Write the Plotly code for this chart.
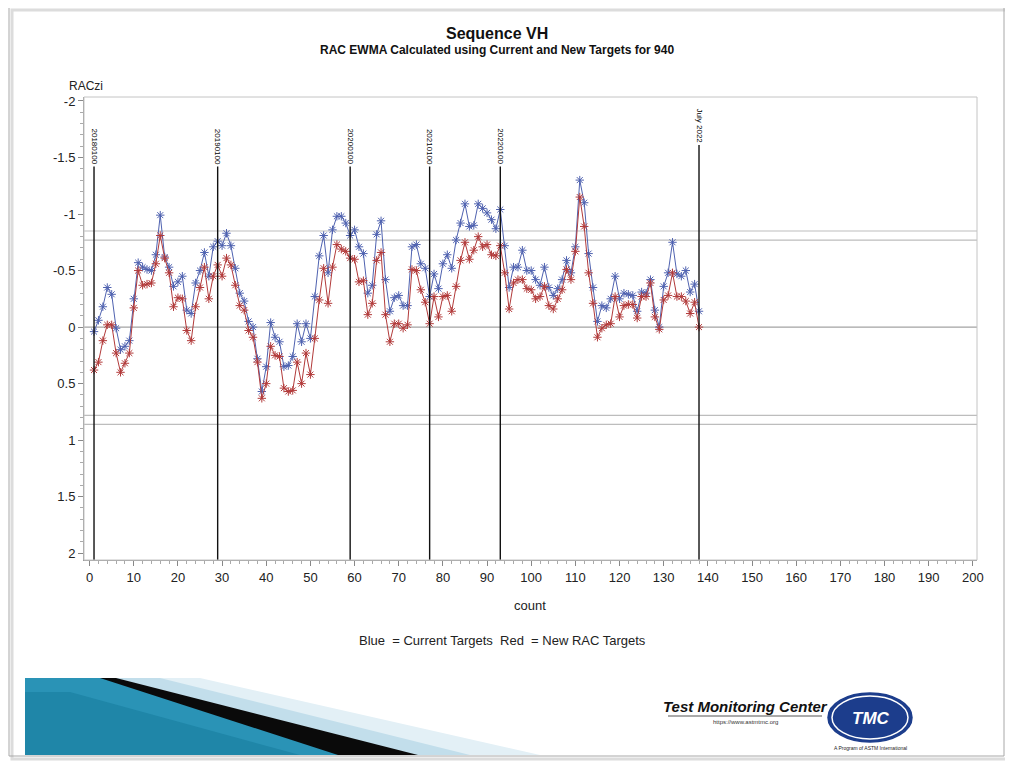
import plotly.graph_objects as go

# ---------------- data ----------------
counts = list(range(1, 139))

blue_current = [
    0.04, -0.06, -0.18, -0.35, -0.29, 0.01, 0.20, 0.17, 0.12, -0.25,
    -0.57, -0.53, -0.51, -0.50, -0.64, -0.99, -0.62, -0.53, -0.36, -0.40,
    -0.45, -0.15, -0.12, -0.39, -0.50, -0.66, -0.45, -0.71, -0.76, -0.72,
    -0.83, -0.72, -0.52, -0.30, -0.23, -0.05, 0.00, 0.28, 0.57, 0.35,
    -0.04, 0.09, 0.13, 0.35, 0.34, 0.26, -0.03, 0.13, -0.03, 0.10,
    -0.27, -0.63, -0.81, -0.48, -0.86, -0.98, -0.98, -0.92, -0.81, -0.86,
    -0.71, -0.65, -0.30, -0.37, -0.82, -0.94, -0.42, -0.14, -0.26, -0.28,
    -0.19, -0.19, -0.71, -0.73, -0.56, -0.52, -0.27, -0.47, -0.34, -0.56,
    -0.64, -0.52, -0.77, -0.92, -1.09, -0.89, -0.90, -1.09, -1.05, -1.01,
    -0.95, -0.87, -1.04, -0.72, -0.35, -0.53, -0.53, -0.68, -0.50, -0.50,
    -0.42, -0.37, -0.53, -0.35, -0.28, -0.34, -0.42, -0.59, -0.48, -0.71,
    -1.30, -1.10, -0.65, -0.35, -0.05, -0.19, -0.17, -0.25, -0.45, -0.25,
    -0.30, -0.29, -0.28, -0.14, -0.31, -0.30, -0.42, -0.15, 0.00, -0.36,
    -0.48, -0.75, -0.47, -0.45, -0.50, -0.31, -0.38, -0.14,
]

red_new = [
    0.38, 0.31, 0.12, -0.02, -0.02, 0.23, 0.40, 0.32, 0.23, -0.17,
    -0.50, -0.37, -0.38, -0.39, -0.56, -0.81, -0.61, -0.48, -0.18, -0.26,
    -0.25, 0.03, 0.12, -0.18, -0.35, -0.53, -0.25, -0.45, -0.55, -0.45,
    -0.61, -0.55, -0.37, -0.19, -0.15, 0.03, 0.09, 0.31, 0.63, 0.50,
    0.17, 0.25, 0.26, 0.54, 0.57, 0.56, 0.31, 0.50, 0.23, 0.42,
    0.10, -0.24, -0.52, -0.21, -0.53, -0.73, -0.69, -0.67, -0.61, -0.60,
    -0.40, -0.41, -0.11, -0.21, -0.59, -0.66, -0.11, 0.13, -0.03, -0.03,
    0.01, -0.02, -0.51, -0.50, -0.33, -0.22, -0.03, -0.27, -0.09, -0.27,
    -0.28, -0.14, -0.36, -0.59, -0.75, -0.60, -0.68, -0.80, -0.71, -0.73,
    -0.64, -0.63, -0.72, -0.48, -0.16, -0.39, -0.42, -0.42, -0.34, -0.33,
    -0.25, -0.27, -0.36, -0.19, -0.16, -0.25, -0.33, -0.51, -0.42, -0.67,
    -1.15, -0.89, -0.48, -0.21, 0.09, 0.01, -0.02, -0.03, -0.27, -0.09,
    -0.19, -0.20, -0.20, -0.08, -0.27, -0.27, -0.39, -0.09, 0.02, -0.24,
    -0.28, -0.48, -0.27, -0.27, -0.23, -0.12, -0.22, 0.00,
]

ref_counts = [1, 29, 59, 77, 93, 138]
ref_labels = ["20180100", "20190100", "20200100", "20210100", "20220100", "July 2022"]
ref_tops = [-1.42, -1.42, -1.42, -1.42, -1.42, -1.61]

limit_lines = [-0.85, -0.77, 0.0, 0.78, 0.86]

x_ticks = list(range(0, 201, 10))
y_ticks = [-2, -1.5, -1, -0.5, 0, 0.5, 1, 1.5, 2]
y_ticktext = ["-2", "-1.5", "-1", "-0.5", "0", "0.5", "1", "1.5", "2"]

# ---------------- figure ----------------
OFF = 8                      # page body margin
W, H = 1005, 765
PL, PR, PT, PB = 84, 977, 97, 560
L, R, T, B = PL - OFF, PR - OFF, PT - OFF, PB - OFF
FONT = "Liberation Sans Narrow, Liberation Sans, Arial, sans-serif"

def px(xp):
    return (xp - PL) / (PR - PL)

def py(yp):
    return (PB - yp) / (PB - PT)

BLUE = "#4f62b0"
RED = "#b23a3a"

fig = go.Figure()
fig.add_trace(go.Scatter(
    x=counts, y=blue_current, mode="lines+markers", name="Current Targets",
    line=dict(color=BLUE, width=1),
    marker=dict(symbol="asterisk-open", size=7, color=BLUE, line=dict(width=1, color=BLUE)),
))
fig.add_trace(go.Scatter(
    x=counts, y=red_new, mode="lines+markers", name="New RAC Targets",
    line=dict(color=RED, width=1),
    marker=dict(symbol="asterisk-open", size=7, color=RED, line=dict(width=1, color=RED)),
))

shapes = []
for v in limit_lines:
    shapes.append(dict(type="line", xref="paper", yref="y", x0=0, x1=1, y0=v, y1=v,
                       line=dict(color="#bdbdbd" if v != 0 else "#a3a3a3", width=1.2), layer="below"))
for c, top in zip(ref_counts, ref_tops):
    shapes.append(dict(type="line", xref="x", yref="y", x0=c, x1=c, y0=top, y1=2.06,
                       line=dict(color="#111111", width=1.4)))
shapes.append(dict(type="rect", xref="paper", yref="paper", x0=0, x1=1, y0=0, y1=1,
                   line=dict(color="#c4c4c4", width=1)))

# slide frame
shapes.append(dict(type="rect", xref="paper", yref="paper", x0=px(12), x1=px(1007), y0=py(759), y1=py(10),
                   line=dict(color="#dcdcdc", width=3), layer="below"))
shapes.append(dict(type="rect", xref="paper", yref="paper", x0=px(9), x1=px(1004), y0=py(756), y1=py(7),
                   line=dict(color="#a8a8a8", width=1), layer="below"))

def path(points):
    return "M " + " L ".join(f"{px(a):.5f},{py(b):.5f}" for a, b in points) + " Z"

# decorative bottom-left graphic
shapes.append(dict(type="path", xref="paper", yref="paper",
                   path=path([(118, 678), (200, 678), (540, 755), (418, 755)]),
                   fillcolor="#e3f0f6", line=dict(width=0)))
shapes.append(dict(type="path", xref="paper", yref="paper",
                   path=path([(112, 678), (160, 678), (470, 755), (400, 755)]),
                   fillcolor="#c2deeb", line=dict(width=0)))
shapes.append(dict(type="path", xref="paper", yref="paper",
                   path=path([(25, 678), (104, 678), (345, 755), (25, 755)]),
                   fillcolor="#2a93b6", line=dict(width=0)))
shapes.append(dict(type="path", xref="paper", yref="paper",
                   path=path([(25, 692), (70, 692), (300, 755), (25, 755)]),
                   fillcolor="#1f86a8", line=dict(width=0)))
shapes.append(dict(type="path", xref="paper", yref="paper",
                   path=path([(100, 678), (116, 678), (418, 755), (338, 755)]),
                   fillcolor="#0a0a0a", line=dict(width=0)))

# logo
shapes.append(dict(type="line", xref="paper", yref="paper", x0=px(668), x1=px(822), y0=py(716), y1=py(716),
                   line=dict(color="#555555", width=1)))
shapes.append(dict(type="circle", xref="paper", yref="paper", x0=px(828), x1=px(912), y0=py(742), y1=py(693),
                   fillcolor="#1c3d8c", line=dict(color="#1c3d8c", width=1.5)))
shapes.append(dict(type="circle", xref="paper", yref="paper", x0=px(832), x1=px(908), y0=py(739), y1=py(696),
                   fillcolor="rgba(0,0,0,0)", line=dict(color="#ffffff", width=1.5)))

def note(text, xp, yp, size, color="#222", **kw):
    return dict(text=text, x=px(xp), y=py(yp), xref="paper", yref="paper", showarrow=False,
                xanchor="center", yanchor="middle", font=dict(size=size, family=FONT, color=color), **kw)

annotations = [
    note("<b>Sequence VH</b>", 497, 33, 16, "#111"),
    note("<b>RAC EWMA Calculated using Current and New Targets for 940</b>", 497, 50, 12, "#111"),
    note("RACzi", 86, 86, 12),
    note("count", 530, 605, 13),
    note("Blue\u00a0 = Current Targets\u00a0 Red\u00a0 = New RAC Targets", 502, 640, 13),
    note("<b><i>Test Monitoring Center</i></b>", 745, 706, 15, "#111"),
    note("https://www.astmtmc.org", 745, 722, 6, "#333"),
    note("<b><i>TMC</i></b>", 871, 718, 17, "#ffffff"),
    note("A Program of ASTM International", 870, 748, 5),
]
for c, lab, top in zip(ref_counts, ref_labels, ref_tops):
    annotations.append(dict(text=lab, x=c, y=top, xref="x", yref="y", showarrow=False,
                            textangle=90, xanchor="center", yanchor="bottom",
                            font=dict(size=8, family=FONT, color="#000")))

fig.update_layout(
    width=W, height=H,
    margin=dict(l=L, r=W - R, t=T, b=H - B),
    paper_bgcolor="white", plot_bgcolor="white",
    showlegend=False,
    shapes=shapes, annotations=annotations,
    font=dict(family=FONT, size=12, color="#222"),
    xaxis=dict(range=[-1.27, 200.95], tickvals=x_ticks, showgrid=False, zeroline=False,
               ticks="outside", ticklen=5, tickcolor="#888", showline=True, linecolor="#9a9a9a",
               tickfont=dict(size=13, family=FONT, color="#222"),
               minor=dict(dtick=2, tick0=0, ticks="outside", ticklen=3, tickcolor="#aaa")),
    yaxis=dict(range=[2.06, -2.035], tickvals=y_ticks, ticktext=y_ticktext, showgrid=False,
               zeroline=False, ticks="outside", ticklen=5, tickcolor="#888", showline=True,
               linecolor="#9a9a9a", tickfont=dict(size=13, family=FONT, color="#222"),
               minor=dict(dtick=0.1, tick0=0, ticks="outside", ticklen=3, tickcolor="#aaa")),
)

fig.write_html("out.html")
